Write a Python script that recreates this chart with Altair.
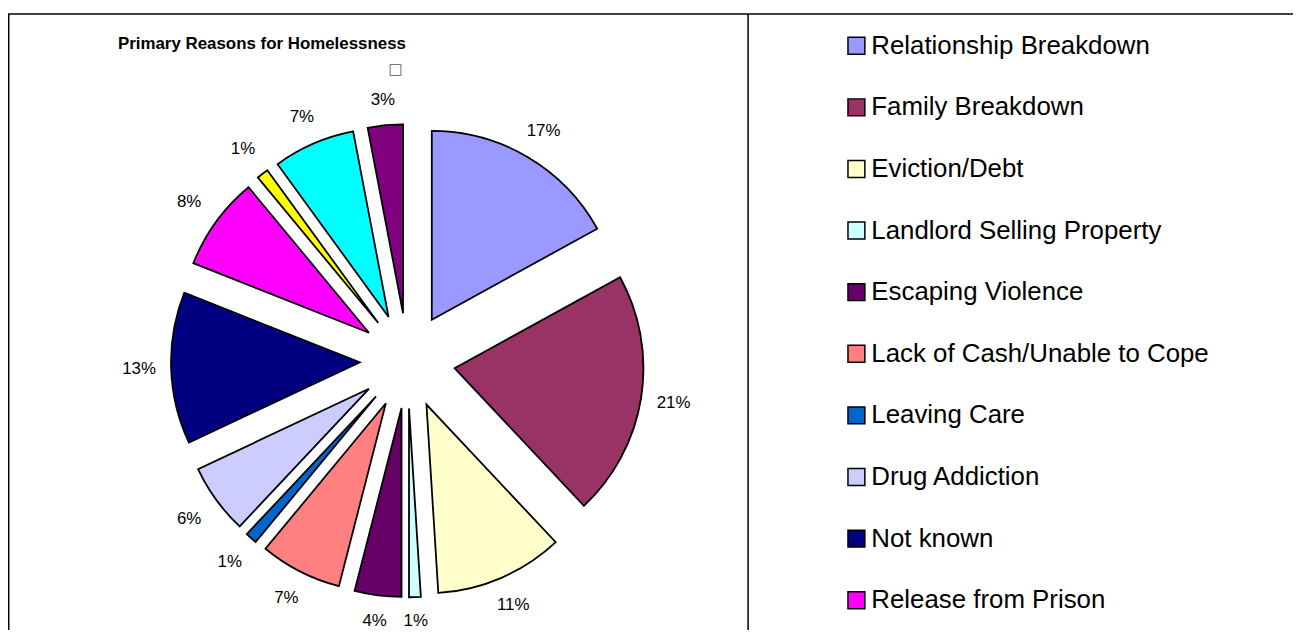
import math
import altair as alt
import pandas as pd

# ---------------- data ----------------
categories = [
    "Relationship Breakdown", "Family Breakdown", "Eviction/Debt",
    "Landlord Selling Property", "Escaping Violence", "Lack of Cash/Unable to Cope",
    "Leaving Care", "Drug Addiction", "Not known", "Release from Prison",
    "Category 11", "Category 12", "Category 13",
]
values = [17, 21, 11, 1, 4, 7, 1, 6, 13, 8, 1, 7, 3]
colors = [
    "#9999FF", "#993366", "#FFFFCC", "#CCFFFF", "#660066", "#FF8080",
    "#0066CC", "#CCCCFF", "#000080", "#FF00FF", "#FFFF00", "#00FFFF", "#800080",
]
legend_visible = 10
title_text = "Primary Reasons for Homelessness"

# ---------------- layout ----------------
W, H = 1293, 624
CX, CY = 402, 353
EXPLODE = 48
R = 190
FONT = "Liberation Sans, Arial, Helvetica, sans-serif"

slices = pd.DataFrame({"cat": categories, "value": values, "idx": list(range(len(categories)))})
legend_df = pd.DataFrame({"cat": categories[:legend_visible], "idx": list(range(legend_visible))})
one = pd.DataFrame({"t": [title_text]})

xs = alt.Scale(domain=[0, W], range=[0, W], nice=False, zero=False)
ys = alt.Scale(domain=[0, H], range=[0, H], nice=False, zero=False)
cs = alt.Scale(domain=categories, range=colors)

base = alt.Chart(slices).transform_window(
    cum="sum(value)", sort=[alt.SortField("idx")], frame=[None, 0]
).transform_calculate(
    start="datum.cum - datum.value",
    ang="(datum.cum - datum.value / 2) / 100 * 2 * PI",
).transform_calculate(
    lr=f"{EXPLODE + R + 16} + 16 * abs(sin(datum.ang)) + 8 * abs(cos(datum.ang))",
).transform_calculate(
    cx=f"{CX} + {EXPLODE} * sin(datum.ang)",
    cy=f"{CY} - {EXPLODE} * cos(datum.ang)",
    lx=f"{CX} + datum.lr * sin(datum.ang)",
    ly=f"{CY} - datum.lr * cos(datum.ang)",
    pct="datum.value + '%'",
)

arcs = base.mark_arc(outerRadius=R, stroke="black", strokeWidth=1.8).encode(
    theta=alt.Theta("start:Q", scale=alt.Scale(domain=[0, 100], range=[0, 2 * math.pi]), stack=False),
    theta2="cum:Q",
    x=alt.X("cx:Q", scale=xs, axis=None),
    y=alt.Y("cy:Q", scale=ys, axis=None),
    color=alt.Color("cat:N", scale=cs, legend=None),
)

labels = base.mark_text(fontSize=17, font=FONT, color="black", align="center", baseline="middle").encode(
    x=alt.X("lx:Q", scale=xs, axis=None),
    y=alt.Y("ly:Q", scale=ys, axis=None),
    text="pct:N",
)

leg = alt.Chart(legend_df).transform_calculate(ly="36 + 62 * datum.idx")
leg_sq = leg.mark_square(size=289, stroke="black", strokeWidth=1.5, opacity=1).encode(
    x=alt.value(853.7),
    y=alt.Y("ly:Q", scale=ys, axis=None),
    color=alt.Color("cat:N", scale=cs, legend=None),
)
leg_txt = leg.mark_text(fontSize=26, font=FONT, color="black", align="left", baseline="alphabetic", dy=8).encode(
    x=alt.value(868.7),
    y=alt.Y("ly:Q", scale=ys, axis=None),
    text="cat:N",
)

title = alt.Chart(one).mark_text(fontSize=17, fontWeight="bold", font=FONT, color="black",
                                 align="center", baseline="middle").encode(
    x=alt.value(255.5), y=alt.value(34), text="t:N")
glyph = alt.Chart(one).mark_text(fontSize=15, font="DejaVu Sans", color="#555555",
                                 align="center", baseline="middle").encode(
    x=alt.value(390), y=alt.value(59), text=alt.value("\u25a1"))

border_left = alt.Chart(one).mark_rule(color="black", strokeWidth=1.5).encode(
    x=alt.value(0.75), y=alt.value(4), y2=alt.value(H))
border_top = alt.Chart(one).mark_rule(color="black", strokeWidth=1.5).encode(
    x=alt.value(0), x2=alt.value(W), y=alt.value(4))
divider = alt.Chart(one).mark_rule(color="black", strokeWidth=1.5).encode(
    x=alt.value(744.7), y=alt.value(4), y2=alt.value(H))

chart = alt.layer(
    border_left, border_top, divider, arcs, labels, leg_sq, leg_txt, title, glyph
).properties(
    width=W, height=H, padding=0, autosize=alt.AutoSizeParams(type="none")
).configure_view(stroke=None)

chart.save("out.html", embed_options={"renderer": "svg", "actions": False})
